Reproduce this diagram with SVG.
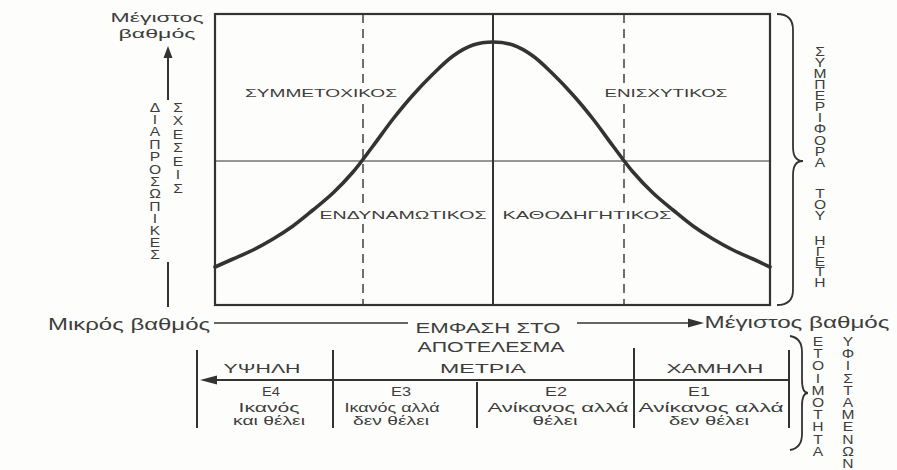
<svg xmlns="http://www.w3.org/2000/svg" width="897" height="470" viewBox="0 0 897 470">
<defs>
<style>
.t{font-family:"Liberation Sans",Arial,sans-serif;fill:#3d3d3d;text-anchor:middle}
.ln{stroke:#333;fill:none}
.v{font-family:"Liberation Sans",Arial,sans-serif;fill:#3d3d3d;text-anchor:middle;font-size:12.5px}
</style>
</defs>
<rect width="897" height="470" fill="#fdfdfb"/>

<g id="grid">
<rect x="215" y="14" width="555" height="291" class="ln" stroke-width="2.2"/>
<line x1="215" y1="161" x2="770" y2="161" class="ln" stroke-width="1.2"/>
<line x1="493" y1="14" x2="493" y2="305" class="ln" stroke-width="2"/>
<line x1="363" y1="14" x2="363" y2="305" class="ln" stroke-width="1.4" stroke-dasharray="9,6"/>
<line x1="624" y1="14" x2="624" y2="305" class="ln" stroke-width="1.4" stroke-dasharray="9,6"/>
</g>

<g id="labels">
<rect x="243" y="86" width="156" height="14" fill="#fdfdfb"/>
<rect x="603" y="86" width="127" height="14" fill="#fdfdfb"/>
<rect x="318" y="207" width="171" height="14" fill="#fdfdfb"/>
<rect x="500" y="207" width="172" height="14" fill="#fdfdfb"/>
<text class="t" x="321" y="97" font-size="11" textLength="152" lengthAdjust="spacingAndGlyphs">ΣΥΜΜΕΤΟΧΙΚΟΣ</text>
<text class="t" x="666" y="97" font-size="11" textLength="123" lengthAdjust="spacingAndGlyphs">ΕΝΙΣΧΥΤΙΚΟΣ</text>
<text class="t" x="403" y="219" font-size="11" textLength="167" lengthAdjust="spacingAndGlyphs">ΕΝΔΥΝΑΜΩΤΙΚΟΣ</text>
<text class="t" x="587" y="219" font-size="11" textLength="169" lengthAdjust="spacingAndGlyphs">ΚΑΘΟΔΗΓΗΤΙΚΟΣ</text>
</g>

<g id="curve">
<path class="ln" stroke="#363636" stroke-width="3.6" stroke-linecap="round" d="M215,267 C221,264.3 226.7,261.8 233,259 S246.3,253.3 253,250 S266.3,243 273,239 S286.3,230.8 293,226 S306.3,215.5 313,210 S326.3,199.3 333,193 S346.3,179.8 353,172 S366.3,154.8 373,146 S386.3,127.5 393,119 S406.3,102.5 413,95 S426.3,80.5 433,74 S446.3,60.8 453,56 S466.3,47.3 473,45 S486.3,42 493,42 S506.3,42.7 513,45 S526.3,51.2 533,56 S546.3,67.5 553,74 S566.3,87.5 573,95 S586.3,110.5 593,119 S606.3,137.2 613,146 S626.3,164.2 633,172 S646.3,186.7 653,193 S666.3,204.5 673,210 S686.3,221.2 693,226 S706.3,235 713,239 S726.3,246.7 733,250 S746.8,256.2 753,259 S764.3,264.3 770,267"/>
</g>

<g id="y-axis">
<text class="t" x="157" y="22" font-size="13" textLength="93" lengthAdjust="spacingAndGlyphs">Μέγιστος</text>
<text class="t" x="157" y="38" font-size="13" textLength="77" lengthAdjust="spacingAndGlyphs">βαθμός</text>
<line x1="168" y1="56" x2="168" y2="100" class="ln" stroke-width="2"/>
<polygon points="168,46 163.5,58 172.5,58" fill="#333"/>
<line x1="168" y1="262" x2="168" y2="307" class="ln" stroke-width="2"/>
<g transform="translate(155,0) scale(1.25,1)">
<text class="v" x="0" y="112">Δ</text><text class="v" x="0" y="124">Ι</text><text class="v" x="0" y="136">Α</text><text class="v" x="0" y="149">Π</text><text class="v" x="0" y="161">Ρ</text><text class="v" x="0" y="174">Ο</text><text class="v" x="0" y="186">Σ</text><text class="v" x="0" y="198">Ω</text><text class="v" x="0" y="211">Π</text><text class="v" x="0" y="223">Ι</text><text class="v" x="0" y="235">Κ</text><text class="v" x="0" y="247">Ε</text><text class="v" x="0" y="259">Σ</text>
</g>
<g transform="translate(178,0) scale(1.25,1)">
<text class="v" x="0" y="112">Σ</text><text class="v" x="0" y="125">Χ</text><text class="v" x="0" y="139">Ε</text><text class="v" x="0" y="152">Σ</text><text class="v" x="0" y="166">Ε</text><text class="v" x="0" y="179">Ι</text><text class="v" x="0" y="193">Σ</text>
</g>
</g>

<g id="leader-brace">
<path class="ln" stroke-width="1.8" d="M777,14 Q793,14 793,30 L793,147 Q793,161 803,161 Q793,161 793,175 L793,290 Q793,305 777,305"/>
<g transform="translate(820,0) scale(1.25,1)">
<text class="v" x="0" y="56">Σ</text><text class="v" x="0" y="67">Υ</text><text class="v" x="0" y="78">Μ</text><text class="v" x="0" y="89">Π</text><text class="v" x="0" y="100">Ε</text><text class="v" x="0" y="111">Ρ</text><text class="v" x="0" y="122">Ι</text><text class="v" x="0" y="133">Φ</text><text class="v" x="0" y="145">Ο</text><text class="v" x="0" y="156">Ρ</text><text class="v" x="0" y="167">Α</text>
<text class="v" x="0" y="198">Τ</text><text class="v" x="0" y="209">Ο</text><text class="v" x="0" y="220">Υ</text>
<text class="v" x="0" y="245">Η</text><text class="v" x="0" y="256">Γ</text><text class="v" x="0" y="266">Ε</text><text class="v" x="0" y="276">Τ</text><text class="v" x="0" y="287">Η</text>
</g>
</g>

<g id="x-axis">
<text class="t" x="129" y="330" font-size="16" textLength="162" lengthAdjust="spacingAndGlyphs">Μικρός βαθμός</text>
<line x1="214" y1="323" x2="408" y2="323" class="ln" stroke-width="1.6"/>
<text class="t" x="488" y="333" font-size="15" textLength="145" lengthAdjust="spacingAndGlyphs">ΕΜΦΑΣΗ ΣΤΟ</text>
<text class="t" x="491" y="352" font-size="15" textLength="147" lengthAdjust="spacingAndGlyphs">ΑΠΟΤΕΛΕΣΜΑ</text>
<line x1="577" y1="323" x2="690" y2="323" class="ln" stroke-width="1.6"/>
<polygon points="704,323 688,318.5 688,327.5" fill="#333"/>
<text class="t" x="797" y="328" font-size="16" textLength="185" lengthAdjust="spacingAndGlyphs">Μέγιστος βαθμός</text>
</g>

<g id="readiness-table">
<line x1="197" y1="350" x2="197" y2="428" class="ln" stroke-width="2"/>
<line x1="333" y1="350" x2="333" y2="428" class="ln" stroke-width="2"/>
<line x1="477" y1="382" x2="477" y2="428" class="ln" stroke-width="2"/>
<line x1="634" y1="348" x2="634" y2="428" class="ln" stroke-width="2"/>
<line x1="789" y1="350" x2="789" y2="428" class="ln" stroke-width="2"/>
<line x1="214" y1="380" x2="789" y2="380" class="ln" stroke-width="1.8"/>
<polygon points="200,380 217,375.5 217,384.5" fill="#333"/>
<text class="t" x="262" y="373" font-size="13" textLength="77" lengthAdjust="spacingAndGlyphs">ΥΨΗΛΗ</text>
<text class="t" x="483" y="373" font-size="13" textLength="86" lengthAdjust="spacingAndGlyphs">ΜΕΤΡΙΑ</text>
<text class="t" x="715" y="373" font-size="13" textLength="97" lengthAdjust="spacingAndGlyphs">ΧΑΜΗΛΗ</text>
<text class="t" x="271" y="396" font-size="12" textLength="18" lengthAdjust="spacingAndGlyphs">Ε4</text>
<text class="t" x="269" y="412" font-size="12" textLength="61" lengthAdjust="spacingAndGlyphs">Ικανός</text>
<text class="t" x="269" y="425" font-size="12" textLength="72" lengthAdjust="spacingAndGlyphs">και θέλει</text>
<text class="t" x="401" y="396" font-size="12" textLength="20" lengthAdjust="spacingAndGlyphs">Ε3</text>
<text class="t" x="392" y="412" font-size="12" textLength="95" lengthAdjust="spacingAndGlyphs">Ικανός αλλά</text>
<text class="t" x="391" y="425" font-size="12" textLength="76" lengthAdjust="spacingAndGlyphs">δεν θέλει</text>
<text class="t" x="556" y="396" font-size="12" textLength="22" lengthAdjust="spacingAndGlyphs">Ε2</text>
<text class="t" x="558" y="412" font-size="12" textLength="141" lengthAdjust="spacingAndGlyphs">Ανίκανος αλλά</text>
<text class="t" x="555" y="425" font-size="12" textLength="45" lengthAdjust="spacingAndGlyphs">θέλει</text>
<text class="t" x="699" y="396" font-size="12" textLength="22" lengthAdjust="spacingAndGlyphs">Ε1</text>
<text class="t" x="711" y="412" font-size="12" textLength="145" lengthAdjust="spacingAndGlyphs">Ανίκανος αλλά</text>
<text class="t" x="709" y="425" font-size="12" textLength="80" lengthAdjust="spacingAndGlyphs">δεν θέλει</text>
</g>

<g id="readiness-brace">
<path class="ln" stroke-width="1.8" d="M790,336 Q802,338 802,352 L802,380 Q802,393 808,393 Q802,393 802,406 L802,434 Q802,448 790,450"/>
<g transform="translate(818,0) scale(1.25,1)">
<text class="v" x="0" y="346">Ε</text><text class="v" x="0" y="358">Τ</text><text class="v" x="0" y="370">Ο</text><text class="v" x="0" y="383">Ι</text><text class="v" x="0" y="395">Μ</text><text class="v" x="0" y="407">Ο</text><text class="v" x="0" y="419">Τ</text><text class="v" x="0" y="431">Η</text><text class="v" x="0" y="444">Τ</text><text class="v" x="0" y="456">Α</text>
</g>
<g transform="translate(848,0) scale(1.25,1)">
<text class="v" x="0" y="346">Υ</text><text class="v" x="0" y="358">Φ</text><text class="v" x="0" y="370">Ι</text><text class="v" x="0" y="383">Σ</text><text class="v" x="0" y="395">Τ</text><text class="v" x="0" y="407">Α</text><text class="v" x="0" y="419">Μ</text><text class="v" x="0" y="431">Ε</text><text class="v" x="0" y="444">Ν</text><text class="v" x="0" y="456">Ω</text><text class="v" x="0" y="468">Ν</text>
</g>
</g>
</svg>
